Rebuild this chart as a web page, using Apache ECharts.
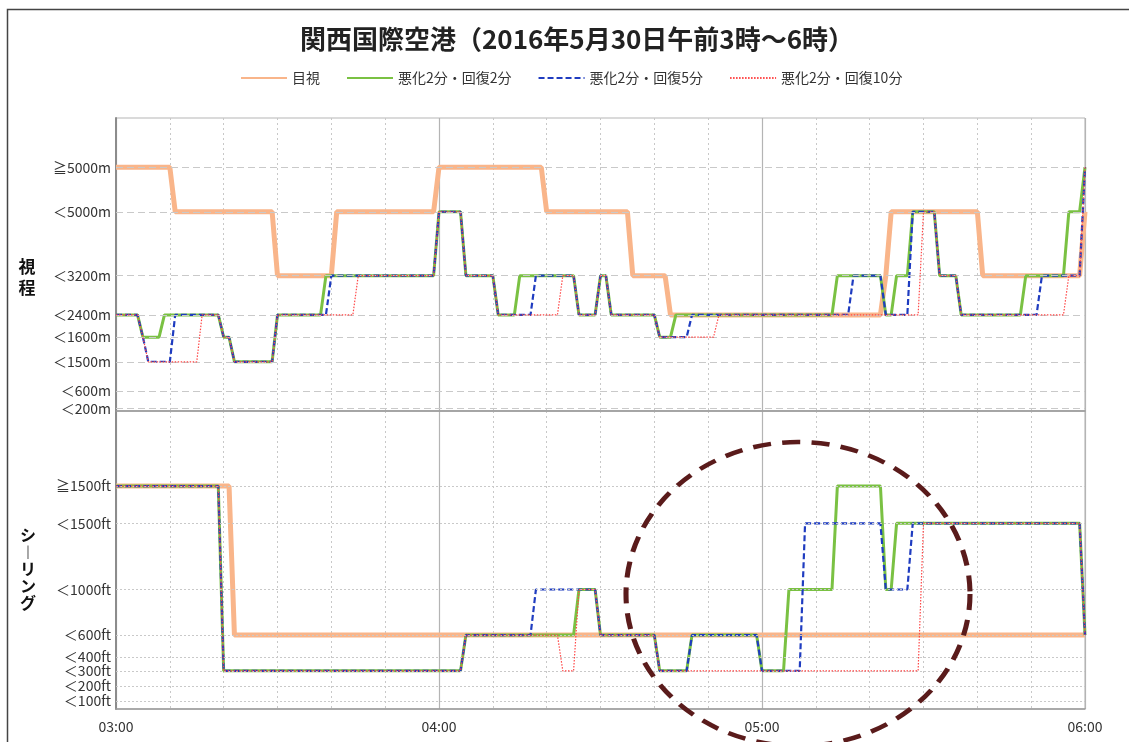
<!DOCTYPE html>
<html>
<head>
<meta charset="utf-8">
<script src="https://cdn.jsdelivr.net/npm/echarts@6/dist/echarts.min.js"></script>
<style>
  html, body { margin: 0; padding: 0; background: #fff; }
  #chart { width: 1129px; height: 742px; }
</style>
</head>
<body>
<div id="chart"></div>
<script>
const FONT = "'Noto Sans CJK JP', 'Noto Sans', sans-serif";

// ---- labels ----
const titleText = '関西国際空港（2016年5月30日午前3時～6時）';
const hourLabels = ['03:00', '04:00', '05:00', '06:00'];
const seriesNames = ['目視', '悪化2分・回復2分', '悪化2分・回復5分', '悪化2分・回復10分'];

// visibility classes, top to bottom
const visLevels = ['≧5000m', '＜5000m', '＜3200m', '＜2400m', '＜1600m', '＜1500m', '＜600m', '＜200m'];
// ceiling classes, top to bottom
const ceilLevels = ['≧1500ft', '＜1500ft', '＜1000ft', '＜600ft', '＜400ft', '＜300ft', '＜200ft', '＜100ft'];

// ---- data: [minutes after 03:00, class] at each vertex ----
const visObserved = [
  [0,'≧5000m'],[10,'≧5000m'],[11,'＜5000m'],[29,'＜5000m'],[30,'＜3200m'],[40,'＜3200m'],[41,'＜5000m'],
  [59,'＜5000m'],[60,'≧5000m'],[79,'≧5000m'],[80,'＜5000m'],[95,'＜5000m'],[96,'＜3200m'],[102,'＜3200m'],
  [103,'＜2400m'],[142,'＜2400m'],[143,'＜3200m'],[144,'＜5000m'],[160,'＜5000m'],[161,'＜3200m'],
  [179,'＜3200m'],[180,'＜5000m']
];
const visW2R2 = [
  [0,'＜2400m'],[4,'＜2400m'],[5,'＜1600m'],[8,'＜1600m'],[9,'＜2400m'],[19,'＜2400m'],[20,'＜1600m'],
  [21,'＜1600m'],[22,'＜1500m'],[29,'＜1500m'],[30,'＜2400m'],[38,'＜2400m'],[39,'＜3200m'],[59,'＜3200m'],
  [60,'＜5000m'],[64,'＜5000m'],[65,'＜3200m'],[70,'＜3200m'],[71,'＜2400m'],[74,'＜2400m'],[75,'＜3200m'],
  [85,'＜3200m'],[86,'＜2400m'],[89,'＜2400m'],[90,'＜3200m'],[91,'＜3200m'],[92,'＜2400m'],[100,'＜2400m'],
  [101,'＜1600m'],[103,'＜1600m'],[104,'＜2400m'],[133,'＜2400m'],[134,'＜3200m'],[142,'＜3200m'],
  [143,'＜2400m'],[144,'＜2400m'],[145,'＜3200m'],[147,'＜3200m'],[148,'＜5000m'],[152,'＜5000m'],
  [153,'＜3200m'],[156,'＜3200m'],[157,'＜2400m'],[168,'＜2400m'],[169,'＜3200m'],[176,'＜3200m'],
  [177,'＜5000m'],[179,'＜5000m'],[180,'≧5000m']
];
const visW2R5 = [
  [0,'＜2400m'],[4,'＜2400m'],[5,'＜1600m'],[6,'＜1500m'],[10,'＜1500m'],[11,'＜2400m'],[19,'＜2400m'],
  [20,'＜1600m'],[21,'＜1600m'],[22,'＜1500m'],[29,'＜1500m'],[30,'＜2400m'],[39,'＜2400m'],[40,'＜3200m'],
  [59,'＜3200m'],[60,'＜5000m'],[64,'＜5000m'],[65,'＜3200m'],[70,'＜3200m'],[71,'＜2400m'],[77,'＜2400m'],
  [78,'＜3200m'],[85,'＜3200m'],[86,'＜2400m'],[89,'＜2400m'],[90,'＜3200m'],[91,'＜3200m'],[92,'＜2400m'],
  [100,'＜2400m'],[101,'＜1600m'],[106,'＜1600m'],[107,'＜2400m'],[136,'＜2400m'],[137,'＜3200m'],
  [142,'＜3200m'],[143,'＜2400m'],[147,'＜2400m'],[148,'＜5000m'],[152,'＜5000m'],[153,'＜3200m'],
  [156,'＜3200m'],[157,'＜2400m'],[171,'＜2400m'],[172,'＜3200m'],[179,'＜3200m'],[180,'≧5000m']
];
const visW2R10 = [
  [0,'＜2400m'],[4,'＜2400m'],[5,'＜1600m'],[6,'＜1500m'],[15,'＜1500m'],[16,'＜2400m'],[19,'＜2400m'],
  [20,'＜1600m'],[21,'＜1600m'],[22,'＜1500m'],[29,'＜1500m'],[30,'＜2400m'],[44,'＜2400m'],[45,'＜3200m'],
  [59,'＜3200m'],[60,'＜5000m'],[64,'＜5000m'],[65,'＜3200m'],[70,'＜3200m'],[71,'＜2400m'],[82,'＜2400m'],
  [83,'＜3200m'],[85,'＜3200m'],[86,'＜2400m'],[89,'＜2400m'],[90,'＜3200m'],[91,'＜3200m'],[92,'＜2400m'],
  [100,'＜2400m'],[101,'＜1600m'],[111,'＜1600m'],[112,'＜2400m'],[149,'＜2400m'],[150,'＜5000m'],
  [152,'＜5000m'],[153,'＜3200m'],[156,'＜3200m'],[157,'＜2400m'],[176,'＜2400m'],[177,'＜3200m'],
  [179,'＜3200m'],[180,'≧5000m']
];

const ceilObserved = [
  [0,'≧1500ft'],[21,'≧1500ft'],[22,'＜600ft'],[180,'＜600ft']
];
const ceilW2R2 = [
  [0,'≧1500ft'],[19,'≧1500ft'],[20,'＜300ft'],[64,'＜300ft'],[65,'＜600ft'],[85,'＜600ft'],[86,'＜1000ft'],
  [89,'＜1000ft'],[90,'＜600ft'],[100,'＜600ft'],[101,'＜300ft'],[106,'＜300ft'],[107,'＜600ft'],
  [119,'＜600ft'],[120,'＜300ft'],[124,'＜300ft'],[125,'＜1000ft'],[133,'＜1000ft'],[134,'≧1500ft'],
  [142,'≧1500ft'],[143,'＜1000ft'],[144,'＜1000ft'],[145,'＜1500ft'],[179,'＜1500ft'],[180,'＜600ft']
];
const ceilW2R5 = [
  [0,'≧1500ft'],[19,'≧1500ft'],[20,'＜300ft'],[64,'＜300ft'],[65,'＜600ft'],[77,'＜600ft'],[78,'＜1000ft'],
  [89,'＜1000ft'],[90,'＜600ft'],[100,'＜600ft'],[101,'＜300ft'],[106,'＜300ft'],[107,'＜600ft'],
  [119,'＜600ft'],[120,'＜300ft'],[127,'＜300ft'],[128,'＜1500ft'],[142,'＜1500ft'],[143,'＜1000ft'],
  [147,'＜1000ft'],[148,'＜1500ft'],[179,'＜1500ft'],[180,'＜600ft']
];
const ceilW2R10 = [
  [0,'≧1500ft'],[19,'≧1500ft'],[20,'＜300ft'],[64,'＜300ft'],[65,'＜600ft'],[82,'＜600ft'],[83,'＜300ft'],
  [85,'＜300ft'],[86,'＜1000ft'],[89,'＜1000ft'],[90,'＜600ft'],[100,'＜600ft'],[101,'＜300ft'],
  [149,'＜300ft'],[150,'＜1500ft'],[179,'＜1500ft'],[180,'＜600ft']
];

// ---- axis scales: where each class sits on its 0-100 axis ----
const visScale = [83.2, 68.0, 46.2, 32.8, 25.2, 16.8, 6.8, 0.9];
const ceilScale = [74.8, 62.3, 40.1, 24.8, 17.5, 12.8, 7.7, 2.7];

function toPoints(rows, levels, scale) {
  return rows.map(([t, lvl]) => [t, scale[levels.indexOf(lvl)]]);
}
function labelFor(v, levels, scale) {
  let best = 0;
  scale.forEach((p, i) => { if (Math.abs(p - v) < Math.abs(scale[best] - v)) best = i; });
  return levels[best];
}

const styles = [
  { color: '#f9b58a', width: 5, type: 'solid' },
  { color: '#7ac143', width: 3, type: 'solid' },
  { color: '#1f3cc0', width: 2.2, type: [6, 3] },
  { color: '#ff4646', width: 1.2, type: [1.5, 1.5] }
];

const X_MIN = 0, X_MAX = 180;

function minuteAxis(gridIndex, withLabels) {
  return {
    type: 'value', gridIndex, min: X_MIN, max: X_MAX, interval: 10,
    axisLine: { show: true, lineStyle: { color: '#9a9a9a', width: 1.5 } },
    axisTick: { show: false },
    axisLabel: withLabels ? {
      show: true, customValues: [0, 60, 120, 180],
      formatter: v => hourLabels[Math.round(v / 60)],
      fontSize: 14, color: '#333', fontFamily: FONT, margin: 11
    } : { show: false },
    splitLine: { show: true, lineStyle: { color: '#c8c8c8', type: [2, 3], width: 1 } }
  };
}
function hourAxis(gridIndex) {
  return {
    type: 'value', gridIndex, min: X_MIN, max: X_MAX, interval: 60, position: 'bottom',
    axisLine: { show: false }, axisTick: { show: false }, axisLabel: { show: false },
    splitLine: { show: true, lineStyle: { color: '#b4b4b4', width: 1.2 } }
  };
}
function levelAxis(gridIndex, levels, scale) {
  return {
    type: 'value', gridIndex, min: 0, max: 100,
    axisLine: { show: true, lineStyle: { color: '#8c8c8c', width: 2 } },
    axisTick: { show: false },
    splitLine: { show: false },
    axisLabel: {
      customValues: scale,
      formatter: v => labelFor(v, levels, scale),
      fontSize: 14, color: '#333', fontFamily: FONT, margin: 5
    }
  };
}
function gridLines(xi, yi, scale, dash) {
  return {
    type: 'line', name: '', xAxisIndex: xi, yAxisIndex: yi, data: [[0, 0]],
    symbol: 'none', silent: true, z: 1, lineStyle: { opacity: 0 },
    markLine: {
      symbol: 'none', silent: true, animation: false, label: { show: false },
      lineStyle: { color: '#c9c9c9', type: dash, width: 1 },
      data: scale.map(p => ({ yAxis: p }))
    }
  };
}
function lineSeries(i, rows, xi, yi, levels, scale) {
  return {
    type: 'line', name: seriesNames[i], xAxisIndex: xi, yAxisIndex: yi,
    data: toPoints(rows, levels, scale),
    symbol: 'none', showSymbol: false, z: 2 + i,
    color: styles[i].color,
    lineStyle: { color: styles[i].color, width: styles[i].width, type: styles[i].type }
  };
}

const chart = echarts.init(document.getElementById('chart'), null, { renderer: 'canvas' });
chart.setOption({
  animation: false,
  backgroundColor: '#fff',
  textStyle: { fontFamily: FONT },
  title: {
    text: titleText, left: 572, top: 21, textAlign: 'center',
    textStyle: { fontSize: 26, fontWeight: 'bold', color: '#222', fontFamily: FONT }
  },
  legend: {
    data: seriesNames, left: 240, top: 71, itemGap: 26, itemWidth: 46, itemHeight: 14,
    itemStyle: { opacity: 0, color: 'transparent', borderWidth: 0 },
    textStyle: { fontSize: 14, color: '#333', fontFamily: FONT }, padding: 0
  },
  grid: [
    { left: 116, right: 44, top: 118, height: 293, show: true, borderColor: '#b5b5b5', borderWidth: 1 },
    { left: 116, right: 44, top: 411, height: 298, show: true, borderColor: '#b5b5b5', borderWidth: 1 }
  ],
  xAxis: [minuteAxis(0, false), hourAxis(0), minuteAxis(1, true), hourAxis(1)],
  yAxis: [levelAxis(0, visLevels, visScale), levelAxis(1, ceilLevels, ceilScale)],
  series: [
    gridLines(0, 0, visScale, [7, 4]),
    gridLines(2, 1, ceilScale, [2, 2]),
    lineSeries(0, visObserved, 0, 0, visLevels, visScale),
    lineSeries(1, visW2R2, 0, 0, visLevels, visScale),
    lineSeries(2, visW2R5, 0, 0, visLevels, visScale),
    lineSeries(3, visW2R10, 0, 0, visLevels, visScale),
    lineSeries(0, ceilObserved, 2, 1, ceilLevels, ceilScale),
    lineSeries(1, ceilW2R2, 2, 1, ceilLevels, ceilScale),
    lineSeries(2, ceilW2R5, 2, 1, ceilLevels, ceilScale),
    lineSeries(3, ceilW2R10, 2, 1, ceilLevels, ceilScale)
  ],
  graphic: [
    // frame
    { type: 'rect', z: 0, silent: true,
      shape: { x: 7.5, y: 9.5, width: 1300, height: 900 },
      style: { fill: 'none', stroke: '#444', lineWidth: 1.5 } },
    // vertical axis names
    { type: 'text', x: 27, y: 277, z: 10, silent: true,
      style: { text: '視\n程', fontSize: 17, fontWeight: 'bold', lineHeight: 21,
               fill: '#111', align: 'center', verticalAlign: 'middle', fontFamily: FONT } },
    { type: 'text', x: 28, y: 569, z: 10, silent: true,
      style: { text: 'シ\n︱\nリ\nン\nグ', fontSize: 16, fontWeight: 'bold', lineHeight: 17,
               fill: '#111', align: 'center', verticalAlign: 'middle', fontFamily: FONT } },
    // dashed highlight ring
    { type: 'circle', x: 798, y: 594, scaleX: 172 / 152, scaleY: 1, z: 100, silent: true,
      shape: { cx: 0, cy: 0, r: 152 },
      style: { fill: 'none', stroke: '#5a1b1b', lineWidth: 4.5, lineDash: [16, 10] } }
  ]
});
</script>
</body>
</html>
